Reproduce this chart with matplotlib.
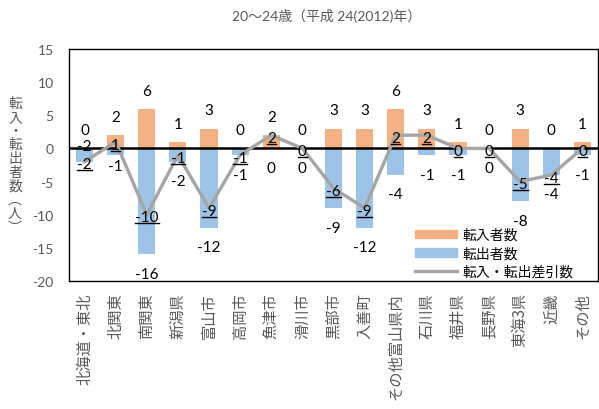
import matplotlib
matplotlib.use("Agg")
import matplotlib.pyplot as plt
from matplotlib.lines import Line2D
import numpy as np

# --- data -------------------------------------------------------------
categories = ["北海道・東北", "北関東", "南関東", "新潟県", "富山市", "高岡市",
              "魚津市", "滑川市", "黒部市", "入善町", "その他富山県内", "石川県",
              "福井県", "長野県", "東海3県", "近畿", "その他"]
moved_in = [0, 2, 6, 1, 3, 0, 2, 0, 3, 3, 6, 3, 1, 0, 3, 0, 1]
moved_out = [-2, -1, -16, -2, -12, -1, 0, 0, -9, -12, -4, -1, -1, 0, -8, -4, -1]
net = [-2, 1, -10, -1, -9, -1, 2, 0, -6, -9, 2, 2, 0, 0, -5, -4, 0]

title = "20〜24歳（平成 24(2012)年）"
ylabel = "転入・転出者数︵人︶"
legend_labels = ["転入者数", "転出者数", "転入・転出差引数"]
yticks = [-20, -15, -10, -5, 0, 5, 10, 15]

# --- style ------------------------------------------------------------
C_IN = "#F4B183"
C_OUT = "#9DC3E6"
C_NET = "#A5A5A5"
GRAY = "#595959"
FONT = ["Lato", "Noto Sans CJK JP", "DejaVu Sans"]
CJK = ["Noto Sans CJK JP", "DejaVu Sans"]
plt.rcParams["font.family"] = FONT

W, H = 599, 410
fig = plt.figure(figsize=(W / 100, H / 100), dpi=100)
ax = fig.add_axes([69 / W, 1 - 282 / H, (598 - 69) / W, (282 - 50) / H])

x = np.arange(len(categories))
ax.bar(x, moved_in, width=0.55, color=C_IN, zorder=2)
ax.bar(x, moved_out, width=0.55, color=C_OUT, zorder=2)
ax.axhline(0, color="black", lw=1.8, zorder=3)
ax.plot(x, net, color=C_NET, lw=2.4, zorder=4)

ax.set_xlim(-0.5, len(categories) - 0.5)
ax.set_ylim(-20, 15)
ax.set_yticks(yticks)
ax.set_yticklabels([str(v) for v in yticks])
ax.tick_params(axis="y", length=0, pad=11, labelsize=10, labelcolor=GRAY)
ax.tick_params(axis="x", length=0, pad=8)
ax.set_xticks(x)
ax.set_xticklabels(categories, family=CJK, fontsize=11, color=GRAY,
                   rotation=90, ha="center", va="top")
for s in ax.spines.values():
    s.set_color("black")
    s.set_linewidth(1.0)

# data labels
LBL = dict(fontsize=11, color="black", ha="center", va="center",
           textcoords="offset points", zorder=6)
out_above = {0}      # label placed above the zero line for this category
out_near = {1}       # label placed closer to the bar end
for i in x:
    ax.annotate(str(moved_in[i]), (i, max(moved_in[i], 0)), xytext=(0, 13), **LBL)
    if i in out_above:
        dy = 2
        base = 0
    elif i in out_near:
        dy = -8
        base = min(moved_out[i], 0)
    else:
        dy = -14
        base = min(moved_out[i], 0)
    ax.annotate(str(moved_out[i]), (i, base), xytext=(0, dy), **LBL)

net_texts = []
for i in x:
    t = ax.annotate(str(net[i]), (i, net[i]), xytext=(0, -2), **LBL)
    net_texts.append(t)

fig.text(15 / W, 1 - 166 / H, "\n".join(ylabel), family=CJK, fontsize=10,
         color=GRAY, ha="center", va="center", linespacing=0.97)

fig.text(327 / W, 1 - 16 / H, title, fontsize=10, color=GRAY,
         ha="center", va="center")

handles = [plt.Rectangle((0, 0), 1, 1, color=C_IN),
           plt.Rectangle((0, 0), 1, 1, color=C_OUT),
           Line2D([], [], color=C_NET, lw=2.4)]
leg = fig.legend(handles, legend_labels, loc="upper left",
                 bbox_to_anchor=(408 / W, 1 - 222 / H), frameon=False,
                 prop={"family": CJK, "size": 10}, handlelength=3.0,
                 handleheight=0.6, handletextpad=0.4, labelspacing=0.3,
                 borderpad=0)

# underline the net-difference labels
fig.canvas.draw()
inv = fig.transFigure.inverted()
for t in net_texts:
    bb = t.get_window_extent()
    (x0, y0), (x1, _) = inv.transform([(bb.x0, bb.y0 + 1.0), (bb.x1, bb.y0 + 1.0)])
    fig.add_artist(Line2D([x0, x1], [y0, y0], transform=fig.transFigure,
                          color="black", lw=1.0, zorder=7))

fig.savefig("out.png", dpi=100)
